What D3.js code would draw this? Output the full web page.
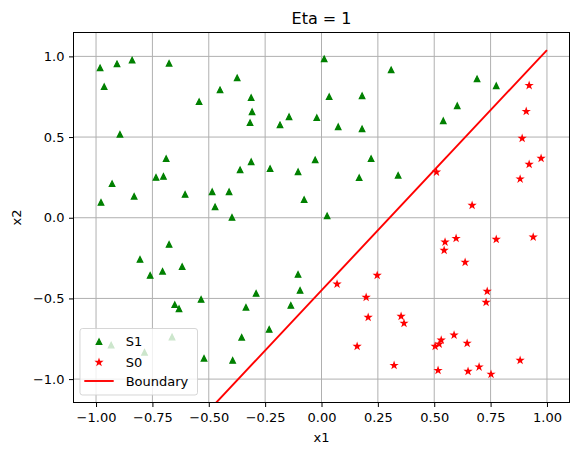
<!DOCTYPE html>
<html lang="en">
<head>
  <meta charset="UTF-8">
  <title>Eta = 1</title>
  <style>
    html, body {
      margin: 0;
      overflow: hidden;
      width: 100%;
      height: 100%;
      background: #fff;
    }

    svg {
      position: absolute;
      top: 0;
      left: 0;
      font-family: "DejaVu Sans", sans-serif;
    }
  </style>
</head>
<body>
  <svg width="578" height="455"></svg>
</body>
<script src="https://d3js.org/d3.v7.min.js"></script>
<script type="text/javascript">
  // class S1 (green triangles)
  const s1X = [-0.982, -0.907, -0.840, -0.676, -0.964, -0.374, -0.450, -0.543, -0.312, -0.308,
    -0.317, -0.184, -0.144, -0.021, -0.894, -0.689, -0.734, -0.701, -0.929, -0.978,
    -0.831, -0.605, -0.485, -0.410, -0.472, -0.312, -0.361, -0.228, -0.104, -0.028,
    -0.077, -0.397, -0.676, -0.805, -0.760, -0.705, -0.618, -0.651, -0.632, -0.534,
    -0.290, -0.335, -0.104, -0.095, -0.136, -0.232, -0.354, -0.521, -0.394, -0.933,
    -0.785, -0.663, 0.012, 0.309, 0.034, 0.180, 0.074, 0.180, 0.690, 0.775,
    0.602, 0.540, 0.220, 0.167, 0.340, 0.025]
  const s1Y = [0.929, 0.954, 0.977, 0.957, 0.812, 0.867, 0.793, 0.719, 0.744, 0.657,
    0.589, 0.576, 0.626, 0.620, 0.517, 0.366, 0.250, 0.256, 0.211, 0.095,
    0.133, 0.145, 0.161, 0.161, 0.068, 0.347, 0.297, 0.304, 0.285, 0.359,
    0.112, 0.002, -0.165, -0.258, -0.357, -0.332, -0.303, -0.539, -0.564, -0.506,
    -0.469, -0.555, -0.351, -0.450, -0.543, -0.692, -0.741, -0.871, -0.884, -0.789,
    -0.834, -0.739, 0.985, 0.917, 0.750, 0.756, 0.564, 0.551, 0.861, 0.818,
    0.694, 0.601, 0.366, 0.248, 0.263, 0.012]

  // class S0 (red stars)
  const s0X = [0.921, 0.908, 0.890, 0.974, 0.921, 0.881, 0.510, 0.668, 0.548, 0.544,
    0.597, 0.775, 0.939, 0.637, 0.735, 0.730, 0.069, 0.247, 0.198, 0.207,
    0.353, 0.366, 0.158, 0.322, 0.588, 0.646, 0.531, 0.522, 0.504, 0.517,
    0.650, 0.699, 0.752, 0.881]
  const s0Y = [0.820, 0.659, 0.492, 0.368, 0.331, 0.240, 0.283, 0.077, -0.151, -0.202,
    -0.128, -0.134, -0.120, -0.276, -0.456, -0.524, -0.411, -0.357, -0.493, -0.617,
    -0.611, -0.654, -0.797, -0.915, -0.727, -0.778, -0.758, -0.783, -0.797, -0.946,
    -0.952, -0.925, -0.970, -0.884]

  // decision boundary end points
  const boundaryX = [-1.0, 1.0]
  const boundaryY = [-1.939, 1.039]

  const xTicks = [-1.0, -0.75, -0.5, -0.25, 0, 0.25, 0.5, 0.75, 1.0]
  const yTicks = [-1.0, -0.5, 0, 0.5, 1.0]

  const legendLabels = ['S1', 'S0', 'Boundary']

  const svg = d3.select('svg')
  const margin = { left: 73.5, right: 8.5, top: 32.5, bottom: 52.5 }
  const width = 578
  const height = 455
  const pw = width - margin.left - margin.right
  const ph = height - margin.top - margin.bottom
  const fs = '13px'

  const x = d3.scaleLinear().domain([-1.1, 1.1]).range([0, pw])
  const y = d3.scaleLinear().domain([-1.145, 1.148]).range([ph, 0])

  const minus = s => s.replace('-', '\u2212')

  svg.append('defs').append('clipPath').attr('id', 'clip')
    .append('rect').attr('width', pw).attr('height', ph)

  const g = svg.append('g').attr('transform', `translate(${margin.left},${margin.top})`)

  // grid
  g.append('g').selectAll('line')
    .data(xTicks)
    .enter()
    .append('line')
    .attr('x1', d => x(d)).attr('x2', d => x(d))
    .attr('y1', 0).attr('y2', ph)
    .attr('stroke', '#b0b0b0')
    .attr('stroke-width', 1)

  g.append('g').selectAll('line')
    .data(yTicks)
    .enter()
    .append('line')
    .attr('y1', d => y(d)).attr('y2', d => y(d))
    .attr('x1', 0).attr('x2', pw)
    .attr('stroke', '#b0b0b0')
    .attr('stroke-width', 1)

  const r = 2.8
  const triPath = `M0,${-r}L${-r},${r}L${r},${r}Z`
  const starPath = (() => {
    const pts = []
    for (let i = 0; i < 10; i++) {
      const rad = i % 2 === 0 ? r * 1.05 : r * 1.05 * 0.381966
      const a = -Math.PI / 2 + i * Math.PI / 5
      pts.push([rad * Math.cos(a), rad * Math.sin(a)])
    }
    return 'M' + pts.map(p => p[0].toFixed(2) + ',' + p[1].toFixed(2)).join('L') + 'Z'
  })()

  const plot = g.append('g').attr('clip-path', 'url(#clip)')

  plot.selectAll('path.s1')
    .data(s1X.map((v, i) => [v, s1Y[i]]))
    .enter()
    .append('path')
    .attr('class', 's1')
    .attr('d', triPath)
    .attr('transform', d => `translate(${x(d[0])},${y(d[1])})`)
    .attr('fill', 'green')
    .attr('stroke', 'green')
    .attr('stroke-width', 1.2)

  plot.selectAll('path.s0')
    .data(s0X.map((v, i) => [v, s0Y[i]]))
    .enter()
    .append('path')
    .attr('class', 's0')
    .attr('d', starPath)
    .attr('transform', d => `translate(${x(d[0])},${y(d[1])})`)
    .attr('fill', 'red')
    .attr('stroke', 'red')
    .attr('stroke-width', 1.2)

  plot.append('path')
    .datum(boundaryX.map((v, i) => [v, boundaryY[i]]))
    .attr('d', d3.line().x(d => x(d[0])).y(d => y(d[1])))
    .attr('fill', 'none')
    .attr('stroke', 'red')
    .attr('stroke-width', 1.9)

  // axes
  const xAxis = g.append('g')
    .attr('transform', `translate(0,${ph})`)
    .call(d3.axisBottom(x).tickValues(xTicks).tickSize(4.5).tickPadding(6)
      .tickFormat(d => minus(d3.format('.2f')(d))))
  const yAxis = g.append('g')
    .call(d3.axisLeft(y).tickValues(yTicks).tickSize(4.5).tickPadding(4.5)
      .tickFormat(d => minus(d3.format('.1f')(d))))

  ;[xAxis, yAxis].forEach(a => {
    a.select('.domain').remove()
    a.selectAll('line').attr('stroke', '#000').attr('stroke-width', 1)
    a.selectAll('text').attr('fill', '#000').style('font-size', fs)
      .style('font-family', '"DejaVu Sans", sans-serif')
  })

  g.append('rect')
    .attr('width', pw).attr('height', ph)
    .attr('fill', 'none')
    .attr('stroke', '#000')
    .attr('stroke-width', 1)

  // labels
  svg.append('text')
    .attr('x', margin.left + pw / 2).attr('y', 24)
    .attr('text-anchor', 'middle')
    .style('font-size', '16px')
    .text('Eta = 1')

  svg.append('text')
    .attr('x', margin.left + pw / 2).attr('y', 442)
    .attr('text-anchor', 'middle')
    .style('font-size', fs)
    .text('x1')

  svg.append('text')
    .attr('transform', `translate(21,${margin.top + ph / 2}) rotate(-90)`)
    .attr('text-anchor', 'middle')
    .style('font-size', fs)
    .text('x2')

  // legend
  const lg = svg.append('g').attr('transform', 'translate(80,328.5)')
  lg.append('rect')
    .attr('width', 117.5).attr('height', 66.5)
    .attr('rx', 2.5)
    .attr('fill', '#fff')
    .attr('fill-opacity', 0.8)
    .attr('stroke', '#cccccc')
    .attr('stroke-opacity', 0.8)
    .attr('stroke-width', 1)

  const rowY = [13.2, 33.8, 52.5]
  const items = lg.selectAll('g.item')
    .data(legendLabels)
    .enter()
    .append('g')
    .attr('class', 'item')
    .attr('transform', (d, i) => `translate(0,${rowY[i]})`)

  items.append('text')
    .attr('x', 45.7).attr('y', 4.7)
    .style('font-size', fs)
    .text(d => d)

  items.filter((d, i) => i === 0).append('path')
    .attr('d', triPath)
    .attr('transform', 'translate(19,0)')
    .attr('fill', 'green').attr('stroke', 'green').attr('stroke-width', 1.2)

  items.filter((d, i) => i === 1).append('path')
    .attr('d', starPath)
    .attr('transform', 'translate(19,0)')
    .attr('fill', 'red').attr('stroke', 'red').attr('stroke-width', 1.2)

  items.filter((d, i) => i === 2).append('line')
    .attr('x1', 4.3).attr('x2', 33.7)
    .attr('stroke', 'red').attr('stroke-width', 1.9)
</script>
</html>
